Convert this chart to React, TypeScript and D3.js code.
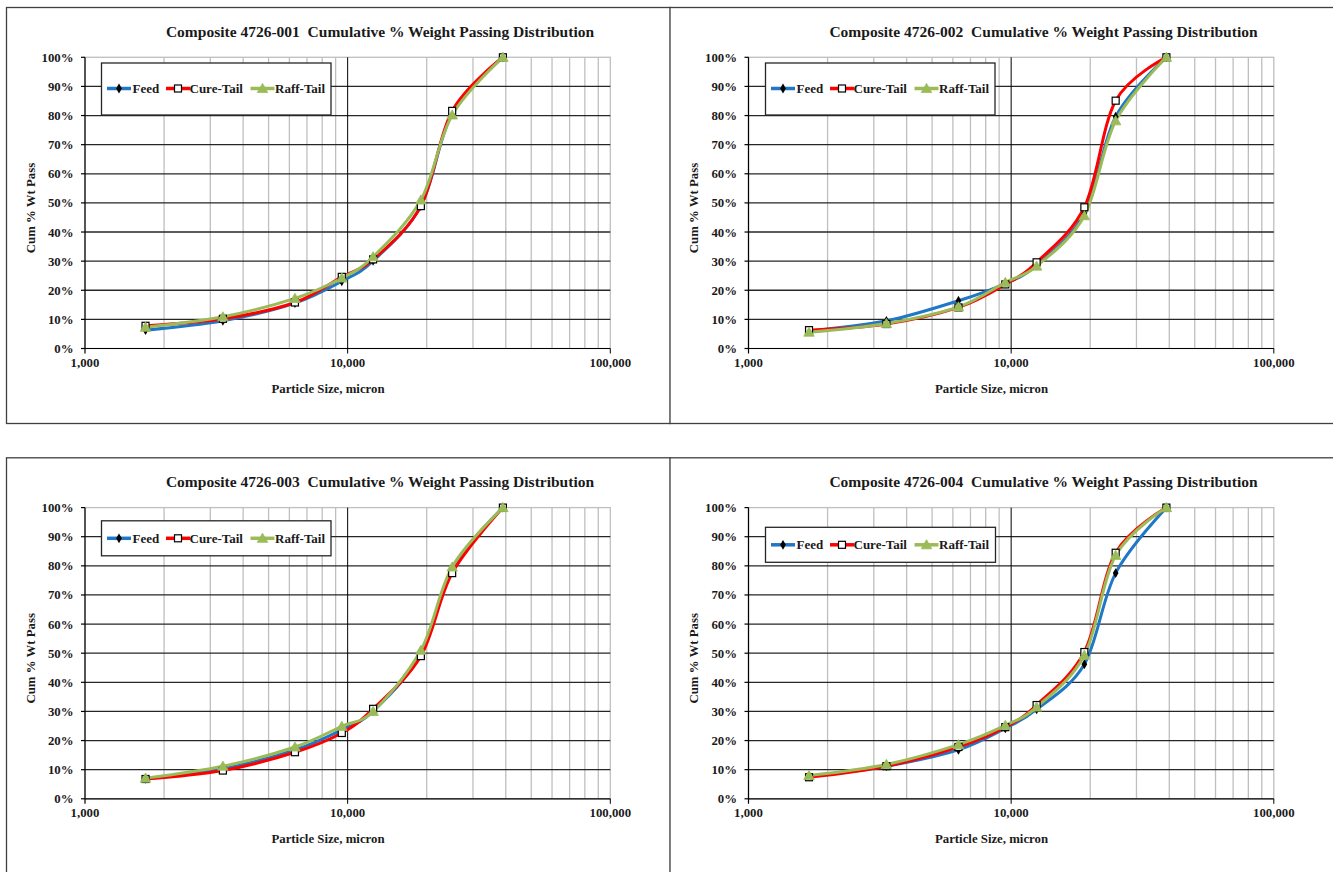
import React from "react";
import * as d3 from "d3";

// ---------- data ----------
const sizes = [1700, 3350, 6300, 9500, 12500, 19000, 25000, 39000];
const composites = ["4726-001", "4726-002", "4726-003", "4726-004"];
const seriesNames = ["Feed", "Cure-Tail", "Raff-Tail"];

const feed001 = [6.3, 9.5, 15.6, 23.1, 30.1, 48.9, 80.8, 100];
const cure001 = [7.8, 10.2, 15.8, 24.6, 30.6, 48.9, 81.6, 100];
const raff001 = [7.3, 10.9, 17.2, 24.2, 31.5, 51.0, 80.2, 100];

const feed002 = [6.0, 9.5, 16.4, 22.3, 28.6, 46.4, 79.6, 100];
const cure002 = [6.3, 8.4, 14.1, 22.0, 29.6, 48.5, 85.1, 100];
const raff002 = [5.6, 8.6, 14.3, 22.7, 28.3, 45.6, 78.2, 100];

const feed003 = [6.9, 10.3, 16.8, 23.7, 30.1, 49.6, 79.0, 100];
const cure003 = [6.8, 9.7, 16.0, 22.6, 30.9, 49.0, 77.5, 100];
const raff003 = [7.1, 11.2, 17.8, 24.9, 30.0, 51.0, 79.6, 100];

const feed004 = [7.7, 11.2, 16.8, 24.2, 30.7, 46.2, 77.5, 100];
const cure004 = [7.4, 11.2, 17.8, 24.6, 32.2, 50.4, 84.5, 100];
const raff004 = [8.0, 11.8, 18.6, 25.2, 31.5, 49.3, 83.6, 100];

const panelSeries = [
  [feed001, cure001, raff001],
  [feed002, cure002, raff002],
  [feed003, cure003, raff003],
  [feed004, cure004, raff004],
];

const yTicks = [0, 10, 20, 30, 40, 50, 60, 70, 80, 90, 100];
const xMajorTicks = [1000, 10000, 100000];
const xMinorTicks = [2000, 3000, 4000, 5000, 6000, 7000, 8000, 9000, 20000, 30000, 40000, 50000, 60000, 70000, 80000, 90000];

// ---------- layout ----------
const W = 1333;
const H = 872;
const panelOffsets = [
  { ox: 0, oy: 0 },
  { ox: 663.5, oy: 0 },
  { ox: 0, oy: 450.3 },
  { ox: 663.5, oy: 450.3 },
];
const legendBoxes = [
  { x: 101.5, y: 63, w: 229.5, h: 52, ty: 88.5 },
  { x: 102, y: 63, w: 229.5, h: 52, ty: 88.5 },
  { x: 101.5, y: 70.5, w: 229.5, h: 35, ty: 88 },
  { x: 102, y: 77, w: 230, h: 35, ty: 94.5 },
];
const colors = ["#1F77C6", "#FF0000", "#9BBB59"];
const FONT = "Liberation Serif, Times New Roman, DejaVu Serif, serif";

const xScale = d3.scaleLog().domain([1000, 100000]).range([85, 610.3]);
const yScale = d3.scaleLinear().domain([0, 100]).range([348.5, 57.3]);
const lineGen = d3
  .line<number>()
  .x((_, i) => xScale(sizes[i]))
  .y((d) => yScale(d))
  .curve(d3.curveCardinal.tension(0));

const diamond = d3.symbol(d3.symbolDiamond, 28)() as string;
const triangle = d3.symbol(d3.symbolTriangle, 48)() as string;
const fmtComma = d3.format(",");

const txt = (size: number): React.CSSProperties => ({
  fontFamily: FONT,
  fontWeight: 700,
  fontSize: size + "px",
  whiteSpace: "pre",
});

function Marker({ kind, x, y }: { kind: number; x: number; y: number }) {
  if (kind === 0)
    return <path d={diamond} transform={`translate(${x},${y})`} fill="#000" />;
  if (kind === 1)
    return <rect x={x - 3.5} y={y - 3.5} width={7} height={7} fill="#fff" stroke="#000" strokeWidth={1.2} />;
  return <path d={triangle} transform={`translate(${x},${y + 1})`} fill="#9BBB59" stroke="#9BBB59" strokeWidth={0.8} />;
}

function Panel({ idx }: { idx: number }) {
  const { ox, oy } = panelOffsets[idx];
  const series = panelSeries[idx];
  const lg = legendBoxes[idx];
  const [x0, x1] = xScale.range();
  const [y0, y1] = yScale.range();
  const legendItems = [
    { lx: 5.5, tx: 31 },
    { lx: 64.5, tx: 88 },
    { lx: 149, tx: 173.5 },
  ];
  return (
    <g transform={`translate(${ox},${oy})`}>
      <rect x={6.5} y={7.5} width={664} height={416} fill="#fff" stroke="#404040" strokeWidth={1.3} />
      <text x={380} y={37} textAnchor="middle" fill="#1a1a1a" style={txt(15.5)}>
        {`Composite ${composites[idx]}  Cumulative % Weight Passing Distribution`}
      </text>
      {/* minor vertical gridlines */}
      {xMinorTicks.map((t) => (
        <line key={"mv" + t} x1={xScale(t)} x2={xScale(t)} y1={y1} y2={y0} stroke="#BFBFBF" strokeWidth={1.3} />
      ))}
      {/* plot border (gray) */}
      <rect x={x0} y={y1} width={x1 - x0} height={y0 - y1} fill="none" stroke="#BFBFBF" strokeWidth={1.3} />
      {/* major horizontal gridlines */}
      {yTicks.filter((t) => t > 0 && t < 100).map((t) => (
        <line key={"hg" + t} x1={x0} x2={x1} y1={yScale(t)} y2={yScale(t)} stroke="#262626" strokeWidth={1.3} />
      ))}
      {/* major vertical 10,000 */}
      <line x1={xScale(10000)} x2={xScale(10000)} y1={y1} y2={y0 + 5} stroke="#000" strokeWidth={1} />
      {/* axes */}
      <line x1={x0} x2={x0} y1={y1} y2={y0 + 5} stroke="#000" strokeWidth={1.2} />
      <line x1={x0} x2={x1} y1={y0} y2={y0} stroke="#000" strokeWidth={1.2} />
      <line x1={x1} x2={x1} y1={y0} y2={y0 + 5} stroke="#000" strokeWidth={1} />
      {yTicks.map((t) => (
        <line key={"yt" + t} x1={x0 - 4} x2={x0} y1={yScale(t)} y2={yScale(t)} stroke="#000" strokeWidth={1.2} />
      ))}
      {/* y tick labels */}
      {yTicks.map((t) => (
        <text key={"yl" + t} x={73.5} y={yScale(t) + 4.5} textAnchor="end" fill="#1a1a1a" style={txt(12.8)}>
          {t + "%"}
        </text>
      ))}
      {/* x tick labels */}
      {xMajorTicks.map((t) => (
        <text key={"xl" + t} x={xScale(t)} y={367} textAnchor="middle" fill="#1a1a1a" style={txt(12.8)}>
          {fmtComma(t)}
        </text>
      ))}
      <text x={328} y={393} textAnchor="middle" fill="#1a1a1a" style={txt(12.8)}>
        Particle Size, micron
      </text>
      <text transform={`translate(34.5,208) rotate(-90)`} textAnchor="middle" fill="#1a1a1a" style={txt(12.8)}>
        Cum % Wt Pass
      </text>
      {/* series */}
      {series.map((vals, si) => (
        <path key={"s" + si} d={lineGen(vals) as string} fill="none" stroke={colors[si]} strokeWidth={3} strokeLinejoin="round" />
      ))}
      {series.map((vals, si) =>
        vals.map((v, i) => <Marker key={`m${si}-${i}`} kind={si} x={xScale(sizes[i])} y={yScale(v)} />)
      )}
      {/* legend */}
      <rect x={lg.x} y={lg.y} width={lg.w} height={lg.h} fill="#fff" stroke="#262626" strokeWidth={1.3} />
      {seriesNames.map((name, si) => {
        const it = legendItems[si];
        const lx = lg.x + it.lx;
        return (
          <g key={"lg" + si}>
            <line x1={lx} x2={lx + 24} y1={lg.ty} y2={lg.ty} stroke={colors[si]} strokeWidth={3.5} />
            <Marker kind={si} x={lx + 12} y={lg.ty} />
            <text x={lg.x + it.tx} y={lg.ty + 4.5} fill="#1a1a1a" style={txt(13)}>
              {name}
            </text>
          </g>
        );
      })}
    </g>
  );
}

export default function App() {
  return (
    <svg width={W} height={H} style={{ position: "absolute", left: 0, top: 0, background: "#fff" }}>
      <rect x={0} y={0} width={W} height={H} fill="#fff" />
      {composites.map((_, i) => (
        <Panel key={i} idx={i} />
      ))}
    </svg>
  );
}
